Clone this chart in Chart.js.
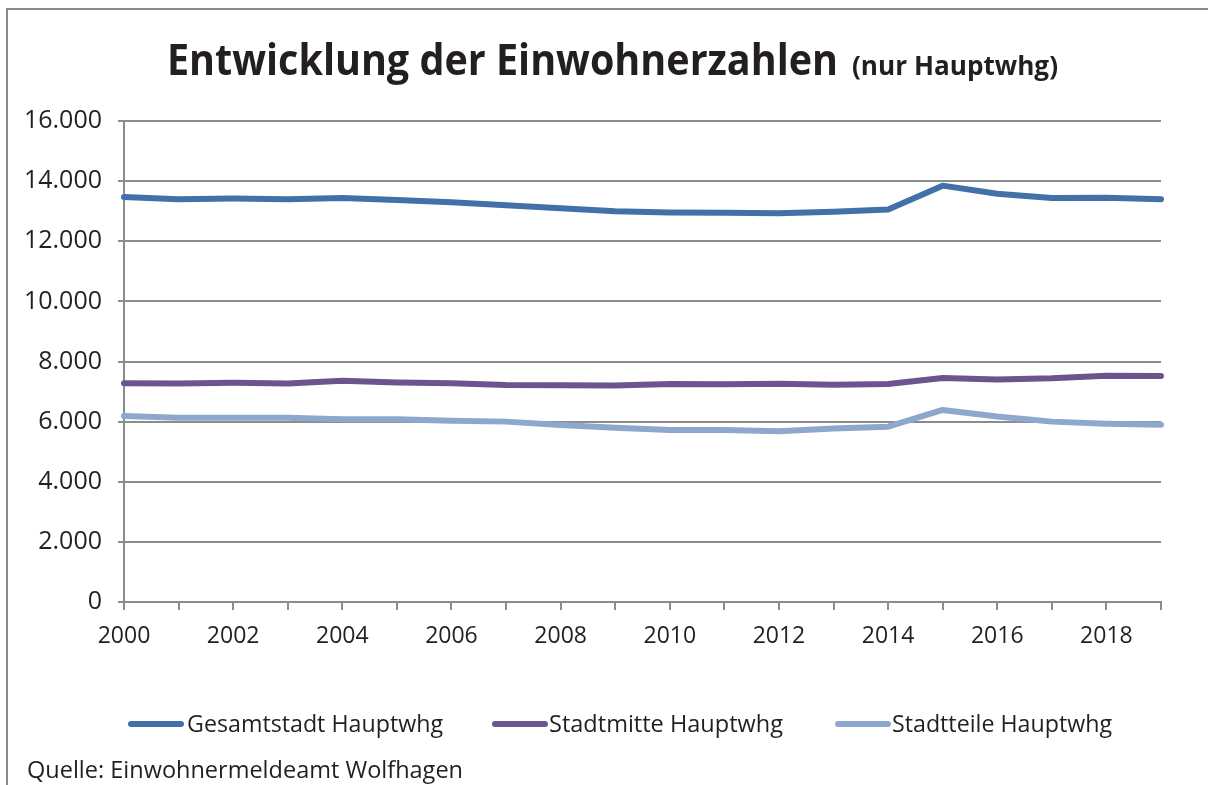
<!DOCTYPE html>
<html>
<head>
<meta charset="utf-8">
<script src="https://cdn.jsdelivr.net/npm/chart.js@4/dist/chart.umd.min.js"></script>
<style>
  html, body { margin: 0; padding: 0; background: #fff; }
  #wrap { width: 1208px; height: 785px; position: relative; }
</style>
</head>
<body>
<div id="wrap"><canvas id="chart" width="1208" height="785"></canvas></div>
<script>
// Jahre (x-Achse)
var years = [2000, 2001, 2002, 2003, 2004, 2005, 2006, 2007, 2008, 2009,
             2010, 2011, 2012, 2013, 2014, 2015, 2016, 2017, 2018, 2019];

// Einwohner mit Hauptwohnung
var gesamtstadt = [13470, 13400, 13420, 13400, 13440, 13370, 13300, 13200, 13100, 13000,
                   12960, 12950, 12930, 12980, 13060, 13850, 13580, 13440, 13450, 13400];
var stadtmitte  = [7280, 7270, 7290, 7270, 7360, 7300, 7280, 7220, 7210, 7200,
                   7250, 7240, 7260, 7230, 7250, 7450, 7400, 7440, 7530, 7520];
var stadtteile  = [6190, 6130, 6130, 6130, 6080, 6080, 6030, 6000, 5890, 5800,
                   5720, 5720, 5680, 5770, 5830, 6390, 6170, 6000, 5930, 5900];

var seriesNames = ["Gesamtstadt Hauptwhg", "Stadtmitte Hauptwhg", "Stadtteile Hauptwhg"];
var yTicks = [0, 2000, 4000, 6000, 8000, 10000, 12000, 14000, 16000];

var colors = ["#4370a9", "#6d548e", "#8ea7cd"];
var FONT = "'Open Sans', 'Liberation Sans', sans-serif";
var gridGray = "#8c8c8c";

// Rahmen, Titel, Legende und Quelle
var decorPlugin = {
    id: "decor",
    afterDraw: function (chart) {
        var ctx = chart.ctx;
        ctx.save();

        // Rahmen oben und links
        ctx.strokeStyle = "#8a8a8a";
        ctx.lineWidth = 2;
        ctx.beginPath();
        ctx.moveTo(7, 785);
        ctx.lineTo(7, 9);
        ctx.lineTo(1208, 9);
        ctx.stroke();

        // Titel
        ctx.fillStyle = "#231f20";
        ctx.textBaseline = "alphabetic";
        ctx.textAlign = "left";
        fitText(ctx, "Entwicklung der Einwohnerzahlen", "bold 43px " + FONT, 167, 75, 671);
        fitText(ctx, "(nur Hauptwhg)", "bold 27px " + FONT, 852, 75, 206);

        // Legende
        var legend = [
            { x: 128, tx: 187, w: 256 },
            { x: 492, tx: 549, w: 234 },
            { x: 835, tx: 892, w: 220 }
        ];
        ctx.lineCap = "round";
        for (var i = 0; i < legend.length; i++) {
            ctx.strokeStyle = colors[i];
            ctx.lineWidth = 6;
            ctx.beginPath();
            ctx.moveTo(legend[i].x + 3, 724);
            ctx.lineTo(legend[i].x + 53, 724);
            ctx.stroke();
            ctx.fillStyle = "#231f20";
            fitText(ctx, seriesNames[i], "23px " + FONT, legend[i].tx, 732, legend[i].w);
        }

        // Quelle
        fitText(ctx, "Quelle: Einwohnermeldeamt Wolfhagen", "23px " + FONT, 27, 778, 436);
        ctx.restore();
    }
};

function fitText(ctx, text, font, x, y, width) {
    ctx.font = font;
    var w = ctx.measureText(text).width;
    ctx.save();
    ctx.translate(x, y);
    ctx.scale(width / w, 1);
    ctx.fillText(text, 0, 0);
    ctx.restore();
}

function makeSet(label, data, color) {
    return {
        label: label,
        data: data,
        borderColor: color,
        backgroundColor: color,
        borderWidth: 6,
        pointRadius: 0,
        pointHoverRadius: 0,
        tension: 0,
        fill: false,
        borderCapStyle: "round",
        borderJoinStyle: "round"
    };
}

new Chart(document.getElementById("chart"), {
    type: "line",
    data: {
        labels: years,
        datasets: [
            makeSet(seriesNames[0], gesamtstadt, colors[0]),
            makeSet(seriesNames[1], stadtmitte, colors[1]),
            makeSet(seriesNames[2], stadtteile, colors[2])
        ]
    },
    options: {
        responsive: false,
        animation: false,
        layout: { padding: { left: 0, right: 47, top: 121, bottom: 133 } },
        plugins: {
            legend: { display: false },
            title: { display: false },
            tooltip: { enabled: false }
        },
        scales: {
            x: {
                offset: false,
                afterFit: function (s) { s.height = 50; },
                grid: {
                    drawOnChartArea: false,
                    drawTicks: true,
                    tickLength: 8,
                    color: gridGray,
                    lineWidth: 2
                },
                border: { display: true, color: gridGray, width: 2 },
                ticks: {
                    autoSkip: false,
                    maxRotation: 0,
                    padding: 13,
                    color: "#231f20",
                    font: { family: FONT, size: 23 },
                    callback: function (v, i) {
                        return years[i] % 2 === 0 ? String(years[i]) : "";
                    }
                }
            },
            y: {
                min: 0,
                max: 16000,
                afterFit: function (s) { s.width = 124; },
                afterBuildTicks: function (s) {
                    s.ticks = yTicks.map(function (v) { return { value: v }; });
                },
                grid: {
                    drawOnChartArea: true,
                    tickLength: 6,
                    color: gridGray,
                    lineWidth: 2
                },
                border: { display: true, color: gridGray, width: 2 },
                ticks: {
                    padding: 16,
                    color: "#231f20",
                    font: { family: FONT, size: 25 },
                    callback: function (v) {
                        return v === 0 ? "0" : v.toLocaleString("de-DE");
                    }
                }
            }
        }
    },
    plugins: [decorPlugin]
});
</script>
</body>
</html>
